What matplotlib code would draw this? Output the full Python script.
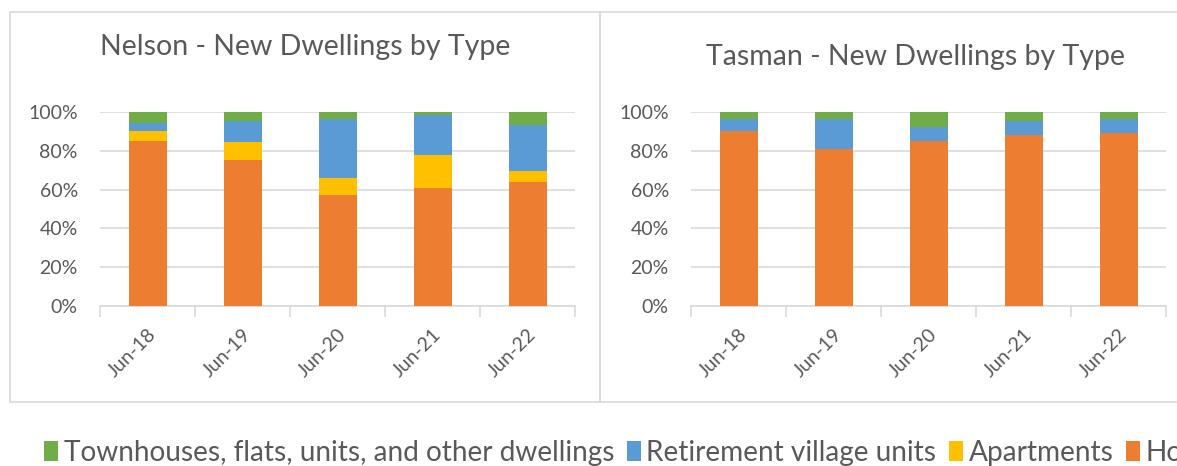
import matplotlib
matplotlib.use("Agg")
import matplotlib.pyplot as plt
from matplotlib.patches import Rectangle, Patch
import numpy as np

plt.rcParams['font.family'] = ['Lato', 'DejaVu Sans']

categories = ["Jun-18", "Jun-19", "Jun-20", "Jun-21", "Jun-22"]
series_names = ["Townhouses, flats, units, and other dwellings",
                "Retirement village units", "Apartments", "Houses"]

nelson_houses = [85.0, 75.5, 57.4, 61.0, 64.1]
nelson_apartments = [5.0, 8.8, 8.8, 16.6, 5.6]
nelson_retirement = [4.1, 11.2, 30.4, 20.7, 23.4]
nelson_townhouses = [5.9, 4.5, 3.4, 1.7, 6.9]

tasman_houses = [90.0, 81.0, 84.8, 87.9, 89.0]
tasman_apartments = [0.0, 0.0, 0.0, 0.0, 0.0]
tasman_retirement = [6.6, 15.6, 7.6, 7.6, 7.2]
tasman_townhouses = [3.4, 3.4, 7.6, 4.5, 3.8]

colors = {"Townhouses, flats, units, and other dwellings": "#70AD47",
          "Retirement village units": "#5B9BD5",
          "Apartments": "#FFC000",
          "Houses": "#ED7D31"}

W, H = 1177, 466
fig = plt.figure(figsize=(W / 100, H / 100), dpi=100)

def fx(px):
    return px / W

def fy(py):
    return 1 - py / H

# panel borders
fig.patches.append(Rectangle((fx(10), fy(402)), fx(590), (402 - 12) / H,
                             transform=fig.transFigure, fill=False,
                             edgecolor="#d9d9d9", linewidth=1.2))
fig.patches.append(Rectangle((fx(600), fy(402)), fx(600), (402 - 12) / H,
                             transform=fig.transFigure, fill=False,
                             edgecolor="#d9d9d9", linewidth=1.2))

def draw(ax, houses, apts, ret, town, title, title_x, title_y):
    x = np.arange(len(categories))
    w = 0.4
    b = np.zeros(len(categories))
    for name, vals in [("Houses", houses), ("Apartments", apts),
                       ("Retirement village units", ret),
                       ("Townhouses, flats, units, and other dwellings", town)]:
        v = np.array(vals) / 100.0
        ax.bar(x, v, w, bottom=b, color=colors[name], label=name, zorder=3)
        b = b + v
    ax.set_xlim(-0.5, len(categories) - 0.5)
    ax.set_ylim(0, 1.0)
    ax.set_yticks(np.linspace(0, 1, 6))
    ax.set_yticklabels([f"{int(round(t*100))}%" for t in np.linspace(0, 1, 6)])
    ax.yaxis.grid(True, color="#d9d9d9", linewidth=1.2, zorder=0)
    ax.set_axisbelow(True)
    for s in ["top", "right", "left"]:
        ax.spines[s].set_visible(False)
    ax.spines["bottom"].set_color("#d9d9d9")
    ax.spines["bottom"].set_linewidth(1.2)
    ax.tick_params(axis="y", length=0, labelsize=14, labelcolor="#595959", pad=16)
    ax.set_xticks(np.arange(-0.5, len(categories), 1.0), minor=False)
    ax.set_xticklabels([""] * (len(categories) + 1))
    ax.tick_params(axis="x", which="major", length=8, color="#d9d9d9", width=1.2)
    ax.set_xticks(x, minor=True)
    ax.set_xticklabels(categories, minor=True, rotation=45, ha="right",
                       rotation_mode="anchor", fontsize=14, color="#595959")
    ax.tick_params(axis="x", which="minor", length=0, pad=14)
    fig.text(title_x, title_y, title, ha="center", va="center",
             fontsize=20.5, color="#595959")

axL = fig.add_axes([fx(100), fy(306), fx(475), (306 - 112) / H])
draw(axL, nelson_houses, nelson_apartments, nelson_retirement, nelson_townhouses,
     "Nelson - New Dwellings by Type", fx(305), fy(47))
axR = fig.add_axes([fx(691), fy(306), fx(475), (306 - 112) / H])
draw(axR, tasman_houses, tasman_apartments, tasman_retirement, tasman_townhouses,
     "Tasman - New Dwellings by Type", fx(916), fy(57))

handles = [Patch(facecolor=colors[n]) for n in series_names]
fig.legend(handles, series_names, loc="center left",
           bbox_to_anchor=(fx(44), fy(453)), ncol=4, frameon=False,
           fontsize=20.2, labelcolor="#595959", handlelength=0.5,
           handleheight=0.7, handletextpad=0.2, columnspacing=0.45,
           borderaxespad=0, borderpad=0)

fig.savefig("out.png", dpi=100)
